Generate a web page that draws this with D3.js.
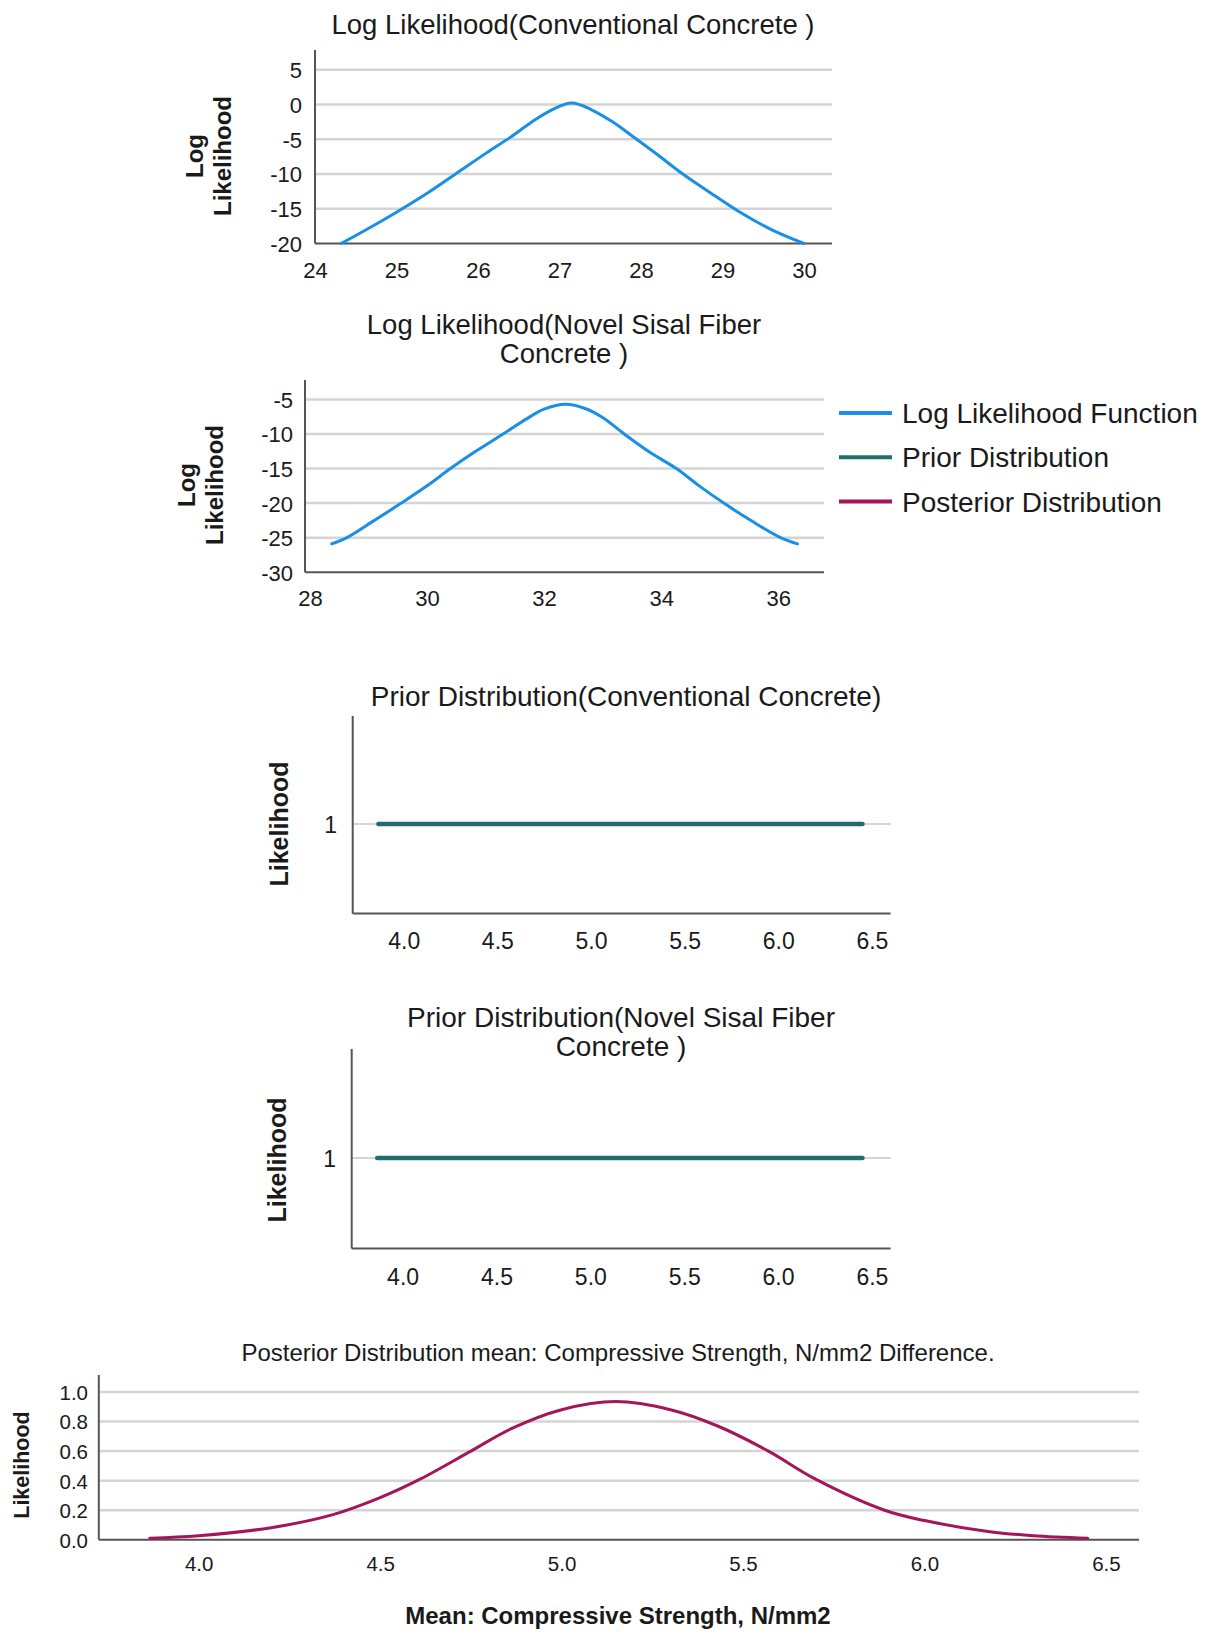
<!DOCTYPE html>
<html>
<head>
<meta charset="utf-8">
<script src="https://cdn.jsdelivr.net/npm/d3@7"></script>
<style>
  html, body { margin: 0; padding: 0; background: #ffffff; }
  svg { display: block; }
  text { font-family: "Liberation Sans", Arial, Helvetica, sans-serif; fill: #1a1a1a; }
</style>
</head>
<body>
<svg id="chart" width="1211" height="1632"></svg>
<script>
// ---------------- DATA ----------------
// Log likelihood (Conventional Concrete)
const llConvX = [24.32, 24.6, 25.0, 25.4, 25.75, 26.1, 26.4, 26.65, 26.9, 27.15, 27.4, 27.65, 27.9, 28.2, 28.5, 28.85, 29.2, 29.6, 30.0];
const llConvY = [-20, -18.2, -15.5, -12.6, -9.8, -7.0, -4.7, -2.6, -0.8, 0.2, -0.8, -2.5, -4.6, -7.2, -9.9, -12.7, -15.4, -18.0, -20];
const llConvXTicks = [24, 25, 26, 27, 28, 29, 30];
const llConvYTicks = [-20, -15, -10, -5, 0, 5];

// Log likelihood (Novel Sisal Fiber Concrete)
const llNovX = [28.37, 28.63, 29.1, 29.56, 30.0, 30.4, 30.85, 31.3, 31.7, 32.0, 32.37, 32.7, 33.0, 33.37, 33.8, 34.26, 34.65, 35.07, 35.55, 36.04, 36.33];
const llNovY = [-25.9, -25, -22.5, -20, -17.5, -15, -12.4, -10, -7.8, -6.4, -5.7, -6.3, -7.6, -10, -12.6, -15, -17.5, -20, -22.6, -25, -25.9];
const llNovXTicks = [28, 30, 32, 34, 36];
const llNovYTicks = [-30, -25, -20, -15, -10, -5];

// Prior distributions (flat)
const priorX = [3.865, 6.45];
const priorY = [1, 1];
const priorXTicks = [4.0, 4.5, 5.0, 5.5, 6.0, 6.5];
const priorYTicks = [1];

// Posterior distribution
const postX = [3.865, 4.0, 4.2, 4.37, 4.5, 4.61, 4.75, 4.86, 5.0, 5.15, 5.3, 5.43, 5.57, 5.70, 5.89, 6.0, 6.18, 6.3, 6.45];
const postY = [0.011, 0.028, 0.082, 0.170, 0.285, 0.41, 0.60, 0.75, 0.88, 0.935, 0.88, 0.77, 0.60, 0.41, 0.20, 0.13, 0.055, 0.028, 0.011];
const postXTicks = [4.0, 4.5, 5.0, 5.5, 6.0, 6.5];
const postYTicks = [0.0, 0.2, 0.4, 0.6, 0.8, 1.0];

// Legend
const legendLabels = ["Log Likelihood Function", "Prior Distribution", "Posterior Distribution"];
const legendColors = ["#1a8fe6", "#1f6e6d", "#a3175a"];

// Titles
const titles = [
  ["Log Likelihood(Conventional Concrete )"],
  ["Log Likelihood(Novel Sisal Fiber", "Concrete )"],
  ["Prior Distribution(Conventional Concrete)"],
  ["Prior Distribution(Novel Sisal Fiber", "Concrete )"],
  ["Posterior Distribution mean: Compressive Strength, N/mm2 Difference."]
];
const xAxisTitle = "Mean: Compressive Strength, N/mm2";

// ---------------- DRAWING ----------------
const svg = d3.select("#chart");
const GRID = "#d4d4d4";
const AXIS = "#555555";
const intFmt = d => String(d);          // plain hyphen-minus like the reference
const oneDec = d => d.toFixed(1);

function zip(xs, ys) { return xs.map((x, i) => ({x: x, y: ys[i]})); }

function panel(o) {
  const g = svg.append("g");
  const x = d3.scaleLinear().domain(o.xDom).range(o.xRange);
  const y = d3.scaleLinear().domain(o.yDom).range(o.yRange);

  // gridlines
  g.append("g").selectAll("line").data(o.yTicks.filter(v => y(v) < o.axisY - 1))
    .join("line")
    .attr("x1", o.axisX).attr("x2", o.axisRight)
    .attr("y1", d => y(d)).attr("y2", d => y(d))
    .attr("stroke", GRID).attr("stroke-width", o.gridW || 2.5);

  // axes lines
  g.append("line").attr("x1", o.axisX).attr("x2", o.axisX).attr("y1", o.axisTop).attr("y2", o.axisY)
    .attr("stroke", AXIS).attr("stroke-width", 2);
  g.append("line").attr("x1", o.axisX).attr("x2", o.axisRight).attr("y1", o.axisY).attr("y2", o.axisY)
    .attr("stroke", AXIS).attr("stroke-width", 2);

  // tick labels via d3 axes (domain path and tick lines hidden)
  const ya = d3.axisLeft(y).tickValues(o.yTicks).tickFormat(o.yFmt || intFmt).tickSize(0).tickPadding(0);
  const yg = g.append("g").attr("transform", `translate(${o.yLabelX},0)`).call(ya);
  yg.select(".domain").remove();
  yg.selectAll("text").attr("font-size", o.tickFont).attr("font-family", null).attr("fill", "#1a1a1a")
    .attr("dy", o.yDy || "0.36em");

  const xa = d3.axisBottom(x).tickValues(o.xTicks).tickFormat(o.xFmt || intFmt).tickSize(0).tickPadding(0);
  const xg = g.append("g").attr("transform", `translate(0,${o.xLabelY})`).call(xa);
  xg.select(".domain").remove();
  xg.selectAll("text").attr("font-size", o.tickFont).attr("font-family", null).attr("fill", "#1a1a1a")
    .attr("dy", "0.36em").attr("y", 0);

  // series line
  const line = d3.line().x(d => x(d.x)).y(d => y(d.y)).curve(d3.curveCatmullRom.alpha(0.5));
  g.append("path").datum(o.data).attr("d", line)
    .attr("fill", "none").attr("stroke", o.color).attr("stroke-width", o.lineW || 3)
    .attr("stroke-linecap", "round").attr("stroke-linejoin", "round");

  // title
  const t = g.append("text").attr("x", o.titleX).attr("y", o.titleY)
    .attr("text-anchor", "middle").attr("font-size", o.titleFont);
  o.title.forEach((s, i) => t.append("tspan").attr("x", o.titleX).attr("dy", i === 0 ? 0 : o.titleLH).text(s));

  // y axis title
  const yt = g.append("text")
    .attr("transform", `translate(${o.yTitleX},${o.yTitleY}) rotate(-90)`)
    .attr("text-anchor", "middle").attr("font-weight", "bold").attr("font-size", o.yTitleFont);
  o.yTitle.forEach((s, i) => yt.append("tspan").attr("x", 0).attr("dy", i === 0 ? 0 : o.yTitleLH).text(s));
  return g;
}

// Chart 1
panel({
  xDom: [24, 30], xRange: [315, 804],
  yDom: [-20, 5], yRange: [243.5, 69.7],
  axisX: 315, axisRight: 832, axisTop: 50, axisY: 243.5,
  yTicks: llConvYTicks, xTicks: llConvXTicks,
  yLabelX: 302, xLabelY: 270, tickFont: 22,
  data: zip(llConvX, llConvY), color: legendColors[0],
  title: titles[0], titleX: 573, titleY: 34, titleFont: 27.5, titleLH: 29,
  yTitle: ["Log", "Likelihood"], yTitleX: 203, yTitleY: 156, yTitleLH: 28, yTitleFont: 24
});

// Chart 2
panel({
  xDom: [28, 36], xRange: [310, 778.2],
  yDom: [-30, -5], yRange: [572.2, 399.5],
  axisX: 305, axisRight: 824, axisTop: 380, axisY: 572.2,
  yTicks: llNovYTicks, xTicks: llNovXTicks,
  yLabelX: 293, xLabelY: 598, tickFont: 22,
  data: zip(llNovX, llNovY), color: legendColors[0],
  title: titles[1], titleX: 564, titleY: 334, titleFont: 27.5, titleLH: 29,
  yTitle: ["Log", "Likelihood"], yTitleX: 195, yTitleY: 485, yTitleLH: 28, yTitleFont: 24
});

// Legend
const lg = svg.append("g");
const legendYs = d3.scalePoint().domain(legendLabels).range([413, 501.5]);
lg.selectAll("line").data(legendLabels).join("line")
  .attr("x1", 839).attr("x2", 892)
  .attr("y1", d => legendYs(d)).attr("y2", d => legendYs(d))
  .attr("stroke", (d, i) => legendColors[i]).attr("stroke-width", 4);
lg.selectAll("text").data(legendLabels).join("text")
  .attr("x", 902).attr("y", d => legendYs(d)).attr("dy", "0.36em")
  .attr("font-size", 28).text(d => d);

// Chart 3
panel({
  xDom: [4, 6.5], xRange: [403.7, 871.9],
  yDom: [0, 2], yRange: [913.5, 734.5],
  axisX: 352.7, axisRight: 890.6, axisTop: 716, axisY: 913.5,
  yTicks: priorYTicks, xTicks: priorXTicks, xFmt: oneDec,
  yLabelX: 337, xLabelY: 941, tickFont: 23, gridW: 2,
  data: zip(priorX, priorY), color: legendColors[1], lineW: 4.5,
  title: titles[2], titleX: 626, titleY: 706, titleFont: 28, titleLH: 29,
  yTitle: ["Likelihood"], yTitleX: 288, yTitleY: 824, yTitleLH: 0, yTitleFont: 25
});

// Chart 4
panel({
  xDom: [4, 6.5], xRange: [402.6, 871.9],
  yDom: [0, 2], yRange: [1248.5, 1067.5],
  axisX: 351.7, axisRight: 890.6, axisTop: 1049, axisY: 1248.5,
  yTicks: priorYTicks, xTicks: priorXTicks, xFmt: oneDec,
  yLabelX: 336, xLabelY: 1276.5, tickFont: 23, gridW: 2,
  data: zip(priorX, priorY), color: legendColors[1], lineW: 4.5,
  title: titles[3], titleX: 621, titleY: 1027, titleFont: 28, titleLH: 29,
  yTitle: ["Likelihood"], yTitleX: 286, yTitleY: 1160, yTitleLH: 0, yTitleFont: 25
});

// Chart 5
panel({
  xDom: [4, 6.5], xRange: [198.7, 1105.9],
  yDom: [0, 1], yRange: [1539.8, 1392],
  axisX: 98.8, axisRight: 1139, axisTop: 1375, axisY: 1539.8,
  yTicks: postYTicks, xTicks: postXTicks, xFmt: oneDec, yFmt: oneDec,
  yLabelX: 88, xLabelY: 1564, tickFont: 20.5,
  data: zip(postX, postY), color: legendColors[2], lineW: 3,
  title: titles[4], titleX: 618, titleY: 1361, titleFont: 24, titleLH: 26,
  yTitle: ["Likelihood"], yTitleX: 29, yTitleY: 1465, yTitleLH: 0, yTitleFont: 21.5
});

svg.append("text").attr("x", 618).attr("y", 1624).attr("text-anchor", "middle")
  .attr("font-weight", "bold").attr("font-size", 24).text(xAxisTitle);
</script>
</body>
</html>
